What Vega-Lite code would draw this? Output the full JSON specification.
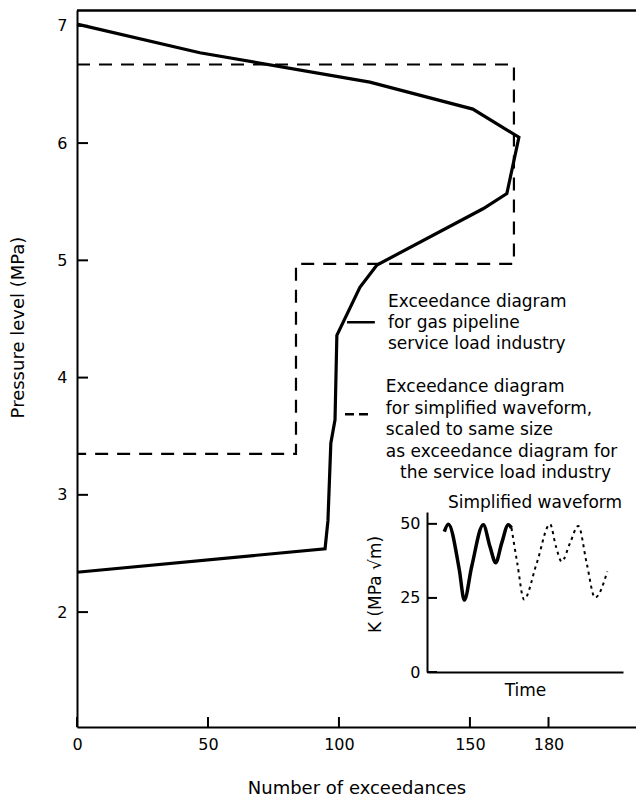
{
  "$schema": "https://vega.github.io/schema/vega-lite/v6.json",
  "width": 559,
  "height": 717,
  "autosize": {"type": "none"},
  "padding": {"left": 77, "top": 10, "right": 0, "bottom": 69},
  "background": "white",
  "config": {
    "view": {"stroke": null},
    "font": "DejaVu Sans",
    "axis": {"grid": false, "labelFont": "DejaVu Sans", "titleFont": "DejaVu Sans", "labelColor": "black", "titleColor": "black", "domainColor": "black", "tickColor": "black", "titleFontWeight": "normal"}
  },
  "datasets": {
    "pipeline": [
      {"i": 0, "x": 0, "y": 7.015},
      {"i": 1, "x": 46.9, "y": 6.77},
      {"i": 2, "x": 111.8, "y": 6.52},
      {"i": 3, "x": 151.1, "y": 6.29},
      {"i": 4, "x": 168.7, "y": 6.05},
      {"i": 5, "x": 164.1, "y": 5.57},
      {"i": 6, "x": 155.0, "y": 5.44},
      {"i": 7, "x": 114.5, "y": 4.96},
      {"i": 8, "x": 108.0, "y": 4.77},
      {"i": 9, "x": 99.2, "y": 4.36},
      {"i": 10, "x": 98.5, "y": 3.64},
      {"i": 11, "x": 96.9, "y": 3.44},
      {"i": 12, "x": 95.8, "y": 2.78},
      {"i": 13, "x": 94.7, "y": 2.54},
      {"i": 14, "x": 0, "y": 2.34}
    ],
    "simplified": [
      {"i": 0, "x": 0, "y": 6.67},
      {"i": 1, "x": 166.8, "y": 6.67},
      {"i": 2, "x": 166.8, "y": 4.97},
      {"i": 3, "x": 83.6, "y": 4.97},
      {"i": 4, "x": 83.6, "y": 3.35},
      {"i": 5, "x": 0, "y": 3.35}
    ],
    "keys": [
      {"key": "solid", "x": 103.1, "y": 4.473},
      {"key": "solid", "x": 113.7, "y": 4.473},
      {"key": "dashed", "x": 102.3, "y": 3.688},
      {"key": "dashed", "x": 111.1, "y": 3.688}
    ],
    "border": [
      {"x": 0, "y": 7.13},
      {"x": 213.4, "y": 7.13}
    ],
    "yTicks": [{"v": 2}, {"v": 3}, {"v": 4}, {"v": 5}, {"v": 6}, {"v": 7}],
    "xTicks": [{"v": 0}, {"v": 50}, {"v": 100}, {"v": 150}, {"v": 180}],
    "kTicks": [{"v": 0}, {"v": 25}, {"v": 50}],
    "notes": [
      {"x": 118.7, "y": 4.643, "text": "Exceedance diagram"},
      {"x": 118.7, "y": 4.464, "text": "for gas pipeline"},
      {"x": 118.7, "y": 4.285, "text": "service load industry"},
      {"x": 117.9, "y": 3.918, "text": "Exceedance diagram"},
      {"x": 117.9, "y": 3.730, "text": "for simplified waveform,"},
      {"x": 117.9, "y": 3.551, "text": "scaled to same size"},
      {"x": 117.9, "y": 3.363, "text": "as exceedance diagram for"},
      {"x": 123.3, "y": 3.184, "text": "the service load industry"}
    ],
    "waveSolid": [
      {"t": 17.3, "v": 47.4},
      {"t": 21.3, "v": 49.9},
      {"t": 32.3, "v": 34.5},
      {"t": 37.3, "v": 24.3},
      {"t": 44.7, "v": 35.6},
      {"t": 56.3, "v": 49.7},
      {"t": 63.0, "v": 42.3},
      {"t": 68.7, "v": 36.9},
      {"t": 74.7, "v": 43.5},
      {"t": 81.3, "v": 49.7},
      {"t": 84.5, "v": 48.6}
    ],
    "waveDotted": [
      {"t": 84.5, "v": 48.6},
      {"t": 90.3, "v": 36.7},
      {"t": 97.0, "v": 24.5},
      {"t": 109.7, "v": 36.7},
      {"t": 123.0, "v": 49.9},
      {"t": 129.0, "v": 42.3},
      {"t": 134.7, "v": 37.3},
      {"t": 143.0, "v": 43.5},
      {"t": 151.3, "v": 49.3},
      {"t": 159.7, "v": 36.7},
      {"t": 168.0, "v": 25.1},
      {"t": 180.3, "v": 33.9}
    ],
    "insetTitle": [
      {"t": 108, "v": 57.1, "text": "Simplified waveform"}
    ]
  },
  "layer": [
    {
      "layer": [
        {
          "data": {"name": "pipeline"},
          "mark": {"type": "line", "color": "black", "strokeWidth": 3.2, "strokeJoin": "miter"},
          "encoding": {
            "x": {"field": "x", "type": "quantitative", "scale": {"domain": [0, 213.4], "nice": false, "zero": false},
              "axis": {"orient": "bottom", "domainWidth": 2, "title": "Number of exceedances", "values": [0, 50, 100, 150, 180], "format": "d", "ticks": false, "labelFontSize": 16, "labelPadding": 9, "labelFlush": false, "labelOverlap": false, "titleFontSize": 18, "titleY": 61, "titleBaseline": "middle"}},
            "y": {"field": "y", "type": "quantitative", "scale": {"domain": [1.02, 7.135], "nice": false, "zero": false},
              "axis": {"orient": "left", "domainWidth": 2, "title": "Pressure level (MPa)", "values": [2, 3, 4, 5, 6, 7], "format": "d", "ticks": false, "labelFontSize": 16, "labelPadding": 10, "labelOverlap": false, "titleFontSize": 18, "titleX": -59, "titleY": 317, "titleBaseline": "middle"}},
            "order": {"field": "i", "type": "quantitative"}
          }
        },
        {
          "data": {"name": "simplified"},
          "mark": {"type": "line", "color": "black", "strokeWidth": 2.2, "strokeDash": [13, 9]},
          "encoding": {
            "x": {"field": "x", "type": "quantitative", "scale": {"domain": [0, 213.4], "nice": false, "zero": false}},
            "y": {"field": "y", "type": "quantitative", "scale": {"domain": [1.02, 7.135], "nice": false, "zero": false}},
            "order": {"field": "i", "type": "quantitative"}
          }
        },
        {
          "data": {"name": "border"},
          "mark": {"type": "line", "color": "black", "strokeWidth": 2.5},
          "encoding": {
            "x": {"field": "x", "type": "quantitative", "scale": {"domain": [0, 213.4], "nice": false, "zero": false}},
            "y": {"field": "y", "type": "quantitative", "scale": {"domain": [1.02, 7.135], "nice": false, "zero": false}}
          }
        },
        {
          "data": {"name": "yTicks"},
          "mark": {"type": "rule", "color": "black", "strokeWidth": 2},
          "encoding": {
            "y": {"field": "v", "type": "quantitative", "scale": {"domain": [1.02, 7.135], "nice": false, "zero": false}},
            "x": {"datum": 0, "type": "quantitative", "scale": {"domain": [0, 213.4], "nice": false, "zero": false}},
            "x2": {"datum": 4.2}
          }
        },
        {
          "data": {"name": "xTicks"},
          "mark": {"type": "rule", "color": "black", "strokeWidth": 2},
          "encoding": {
            "x": {"field": "v", "type": "quantitative", "scale": {"domain": [0, 213.4], "nice": false, "zero": false}},
            "y": {"datum": 1.02, "type": "quantitative", "scale": {"domain": [1.02, 7.135], "nice": false, "zero": false}},
            "y2": {"datum": 1.105}
          }
        },
        {
          "data": {"name": "keys"},
          "mark": {"type": "line", "color": "black", "strokeWidth": 2.5},
          "encoding": {
            "x": {"field": "x", "type": "quantitative", "scale": {"domain": [0, 213.4], "nice": false, "zero": false}},
            "y": {"field": "y", "type": "quantitative", "scale": {"domain": [1.02, 7.135], "nice": false, "zero": false}},
            "detail": {"field": "key"},
            "strokeDash": {"field": "key", "type": "nominal", "scale": {"domain": ["solid", "dashed"], "range": [[1, 0], [9, 5]]}, "legend": null}
          }
        },
        {
          "data": {"name": "notes"},
          "mark": {"type": "text", "align": "left", "baseline": "middle", "fontSize": 17, "font": "DejaVu Sans", "color": "black"},
          "encoding": {
            "x": {"field": "x", "type": "quantitative", "scale": {"domain": [0, 213.4], "nice": false, "zero": false}},
            "y": {"field": "y", "type": "quantitative", "scale": {"domain": [1.02, 7.135], "nice": false, "zero": false}},
            "text": {"field": "text"}
          }
        }
      ]
    },
    {
      "layer": [
        {
          "data": {"name": "waveSolid"},
          "mark": {"type": "line", "color": "black", "interpolate": "monotone", "strokeWidth": 3.5},
          "encoding": {
            "x": {"field": "t", "type": "quantitative", "scale": {"domain": [0, 196], "range": [350, 546], "nice": false, "zero": false},
              "axis": {"orient": "bottom", "offset": -55, "title": "Time", "ticks": false, "labels": false, "domainWidth": 2, "titleFontSize": 17, "titleY": 18, "titleBaseline": "middle"}},
            "y": {"field": "v", "type": "quantitative", "scale": {"domain": [0, 54], "range": [662, 502], "nice": false, "zero": false},
              "axis": {"orient": "left", "offset": -350, "domainWidth": 2, "title": "K (MPa √m)", "values": [0, 25, 50], "ticks": false, "labelFontSize": 16, "labelPadding": 7, "titleFontSize": 17, "titleX": -52, "titleY": 574, "titleBaseline": "middle"}}
          }
        },
        {
          "data": {"name": "waveDotted"},
          "mark": {"type": "line", "color": "black", "interpolate": "monotone", "strokeWidth": 2, "strokeDash": [3, 4]},
          "encoding": {
            "x": {"field": "t", "type": "quantitative", "scale": {"domain": [0, 196], "range": [350, 546], "nice": false, "zero": false}},
            "y": {"field": "v", "type": "quantitative", "scale": {"domain": [0, 54], "range": [662, 502], "nice": false, "zero": false}}
          }
        },
        {
          "data": {"name": "kTicks"},
          "mark": {"type": "rule", "color": "black", "strokeWidth": 2},
          "encoding": {
            "y": {"field": "v", "type": "quantitative", "scale": {"domain": [0, 54], "range": [662, 502], "nice": false, "zero": false}},
            "x": {"datum": 0, "type": "quantitative", "scale": {"domain": [0, 196], "range": [350, 546], "nice": false, "zero": false}},
            "x2": {"datum": 10}
          }
        },
        {
          "data": {"name": "insetTitle"},
          "mark": {"type": "text", "align": "center", "baseline": "middle", "fontSize": 17, "font": "DejaVu Sans", "color": "black"},
          "encoding": {
            "x": {"field": "t", "type": "quantitative", "scale": {"domain": [0, 196], "range": [350, 546], "nice": false, "zero": false}},
            "y": {"field": "v", "type": "quantitative", "scale": {"domain": [0, 54], "range": [662, 502], "nice": false, "zero": false}},
            "text": {"field": "text"}
          }
        }
      ]
    }
  ],
  "resolve": {"scale": {"x": "independent", "y": "independent"}, "axis": {"x": "independent", "y": "independent"}}
}
